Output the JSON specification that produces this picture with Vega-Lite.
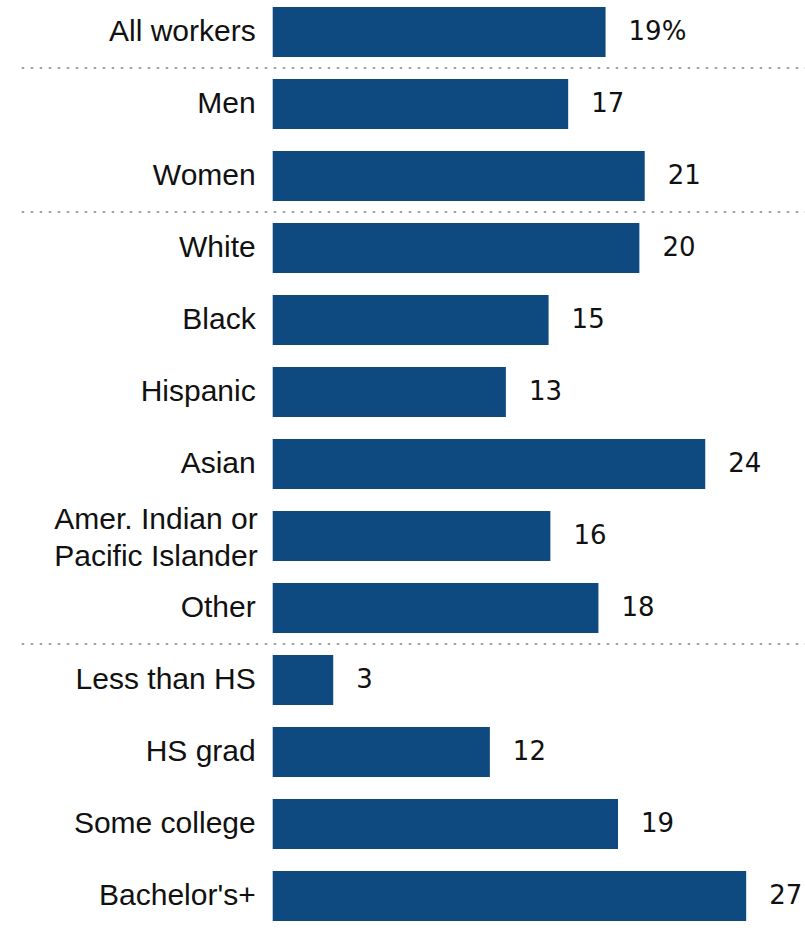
{
  "$schema": "https://vega.github.io/schema/vega-lite/v6.json",
  "width": 805,
  "height": 931,
  "autosize": "none",
  "padding": 0,
  "background": "white",
  "config": {"view": {"stroke": null}},
  "data": {
    "values": [
      {"group": "All workers", "value": 18.7, "label": "19%"},
      {"group": "Men", "value": 16.6, "label": "17"},
      {"group": "Women", "value": 20.9, "label": "21"},
      {"group": "White", "value": 20.6, "label": "20"},
      {"group": "Black", "value": 15.5, "label": "15"},
      {"group": "Hispanic", "value": 13.1, "label": "13"},
      {"group": "Asian", "value": 24.3, "label": "24"},
      {"group": "Amer. Indian or\nPacific Islander", "value": 15.6, "label": "16"},
      {"group": "Other", "value": 18.3, "label": "18"},
      {"group": "Less than HS", "value": 3.4, "label": "3"},
      {"group": "HS grad", "value": 12.2, "label": "12"},
      {"group": "Some college", "value": 19.4, "label": "19"},
      {"group": "Bachelor's+", "value": 26.6, "label": "27"}
    ]
  },
  "encoding": {
    "y": {
      "field": "group",
      "type": "nominal",
      "sort": null,
      "axis": null,
      "scale": {
        "domain": ["All workers", "Men", "Women", "White", "Black", "Hispanic", "Asian", "Amer. Indian or\nPacific Islander", "Other", "Less than HS", "HS grad", "Some college", "Bachelor's+"],
        "range": [7, 921],
        "paddingInner": 0.3056,
        "paddingOuter": 0
      }
    }
  },
  "layer": [
    {
      "mark": {"type": "bar", "color": "#0e4a80"},
      "encoding": {
        "x": {"field": "value", "type": "quantitative", "axis": null, "scale": {"domain": [0, 30], "range": [272.7, 806.7]}}
      }
    },
    {
      "transform": [{"filter": "indexof(datum.group, '\\n') < 0"}],
      "mark": {"type": "text", "align": "right", "baseline": "middle", "dx": -17, "font": "Liberation Sans", "fontSize": 30, "color": "#111111"},
      "encoding": {
        "x": {"datum": 0, "type": "quantitative", "scale": {"domain": [0, 30], "range": [272.7, 806.7]}},
        "text": {"field": "group"}
      }
    },
    {
      "transform": [{"filter": "indexof(datum.group, '\\n') >= 0"}],
      "mark": {"type": "text", "align": "right", "baseline": "middle", "dx": -15, "dy": -16, "font": "Liberation Sans", "fontSize": 30, "color": "#111111", "lineBreak": "\n", "lineHeight": 37},
      "encoding": {
        "x": {"datum": 0, "type": "quantitative", "scale": {"domain": [0, 30], "range": [272.7, 806.7]}},
        "text": {"field": "group"}
      }
    },
    {
      "mark": {"type": "text", "align": "left", "baseline": "middle", "dx": 23, "font": "DejaVu Sans", "fontSize": 26, "color": "#111111"},
      "encoding": {
        "x": {"field": "value", "type": "quantitative", "scale": {"domain": [0, 30], "range": [272.7, 806.7]}},
        "text": {"field": "label"}
      }
    },
    {
      "data": {"values": [{"group": "All workers"}, {"group": "Women"}, {"group": "Other"}]},
      "mark": {"type": "rule", "yOffset": 11, "strokeDash": [2.5, 6.5], "strokeWidth": 2.2, "color": "#a3a3a3"},
      "encoding": {
        "y": {"field": "group", "type": "nominal", "bandPosition": 1},
        "x": {"datum": -14.1, "type": "quantitative", "scale": {"domain": [0, 30], "range": [272.7, 806.7]}},
        "x2": {"datum": 30}
      }
    }
  ]
}
